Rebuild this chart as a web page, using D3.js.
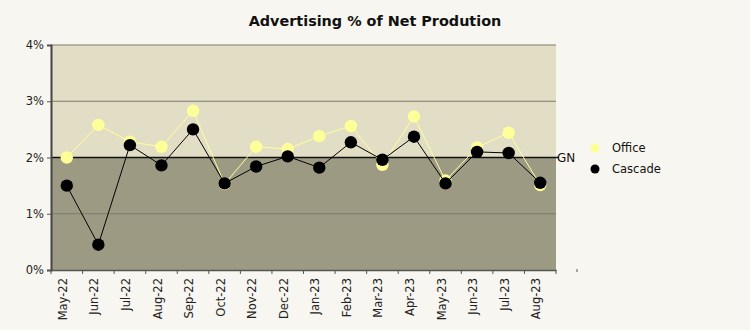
<!DOCTYPE html>
<html><head><meta charset="utf-8">
<script src="https://cdn.jsdelivr.net/npm/d3@7"></script>
<style>body{margin:0;background:#f8f6f0;} svg{display:block;}</style>
</head><body>
<script>
const categories = ["May-22","Jun-22","Jul-22","Aug-22","Sep-22","Oct-22","Nov-22","Dec-22","Jan-23","Feb-23","Mar-23","Apr-23","May-23","Jun-23","Jul-23","Aug-23"];
const office  = [2.00,2.58,2.28,2.19,2.83,1.53,2.19,2.15,2.38,2.56,1.87,2.73,1.59,2.18,2.44,1.51];
const cascade = [1.50,0.45,2.22,1.86,2.50,1.54,1.84,2.02,1.82,2.27,1.96,2.37,1.54,2.10,2.08,1.55];
const yTicks = [0,1,2,3,4];
const goal = 2;
const goalLabel = "GN";
const seriesNames = ["Office","Cascade"];
const colors = ["#ffff99","#000000"];

const W=750,H=330;
const m={left:51,right:194,top:45,bottom:60};
const svg=d3.select("body").append("svg").attr("width",W).attr("height",H);
svg.append("rect").attr("width",W).attr("height",H).attr("fill","#f8f6f0");
const x=d3.scaleBand().domain(categories).range([m.left,W-m.right]);
const y=d3.scaleLinear().domain([0,4]).range([H-m.bottom,m.top]);
const font="DejaVu Sans, Verdana, sans-serif";

// bands
svg.append("rect").attr("x",m.left).attr("y",y(4)).attr("width",x.range()[1]-m.left).attr("height",y(goal)-y(4)).attr("fill","#e2dec6");
svg.append("rect").attr("x",m.left).attr("y",y(goal)).attr("width",x.range()[1]-m.left).attr("height",y(0)-y(goal)).attr("fill","#9d9a84");
// grid
svg.append("g").selectAll("line").data(yTicks.filter(d=>d>0&&d!==goal)).join("line")
  .attr("x1",m.left).attr("x2",x.range()[1]).attr("y1",d=>y(d)).attr("y2",d=>y(d))
  .attr("stroke","#7c7a6c").attr("stroke-width",1.2);
// goal line
svg.append("line").attr("x1",m.left).attr("x2",x.range()[1]+3).attr("y1",y(goal)).attr("y2",y(goal)).attr("stroke","#111").attr("stroke-width",1.5);
svg.append("text").attr("x",x.range()[1]+1).attr("y",y(goal)+4.5).text(goalLabel).attr("font-family",font).attr("font-size",12).attr("fill","#111");

// y axis
const ya=svg.append("g").attr("transform",`translate(${m.left},0)`).call(d3.axisLeft(y).tickValues(yTicks).tickFormat(d=>d+"%").tickSize(4).tickPadding(3));
ya.select(".domain").attr("stroke","#444").attr("stroke-width",2);
ya.selectAll("text").attr("font-family",font).attr("font-size",11.5).attr("fill","#222");
ya.selectAll(".tick line").attr("stroke","#555");

// x axis
const xa=svg.append("g").attr("transform",`translate(0,${y(0)})`).call(d3.axisBottom(x).tickSize(0).tickSizeOuter(0));
xa.select(".domain").attr("stroke","#555").attr("stroke-width",1.5);
xa.selectAll("text").attr("font-family",font).attr("font-size",11.5).attr("fill","#222")
  .attr("transform","rotate(-90)").attr("text-anchor","end").attr("x",-8).attr("y",-4).attr("dy","0.35em");
svg.append("g").selectAll("line").data(categories.concat(["end"])).join("line")
  .attr("x1",(d,i)=>m.left+i*x.bandwidth()).attr("x2",(d,i)=>m.left+i*x.bandwidth())
  .attr("y1",y(0)).attr("y2",y(0)+4).attr("stroke","#555");
svg.append("line").attr("x1",577).attr("x2",577).attr("y1",y(0)-1).attr("y2",y(0)+2).attr("stroke","#555");

// series
const series=[office,cascade];
series.forEach((vals,si)=>{
  const line=d3.line().x((d,i)=>x(categories[i])+x.bandwidth()/2).y(d=>y(d));
  svg.append("path").datum(vals).attr("d",line).attr("fill","none").attr("stroke",colors[si]).attr("stroke-width",1);
  svg.append("g").selectAll("circle").data(vals).join("circle")
    .attr("cx",(d,i)=>x(categories[i])+x.bandwidth()/2).attr("cy",d=>y(d)).attr("r",6.2)
    .attr("fill",colors[si]);
});

// title
const t=svg.append("text").attr("x",375).attr("y",26).attr("text-anchor","middle").text("Advertising % of Net Prodution")
  .attr("font-family",font).attr("font-weight","bold").attr("font-size",15).attr("fill","#111");
const tw=t.node().getComputedTextLength();
if(tw>0) t.attr("font-size",15*253/tw);

// legend
const lg=svg.append("g");
seriesNames.forEach((n,i)=>{
  lg.append("circle").attr("cx",595).attr("cy",148+i*21).attr("r",4.5).attr("fill",colors[i]);
  lg.append("text").attr("x",612).attr("y",152+i*21).text(n).attr("font-family",font).attr("font-size",11.5).attr("fill","#111");
});
</script>
</body></html>
